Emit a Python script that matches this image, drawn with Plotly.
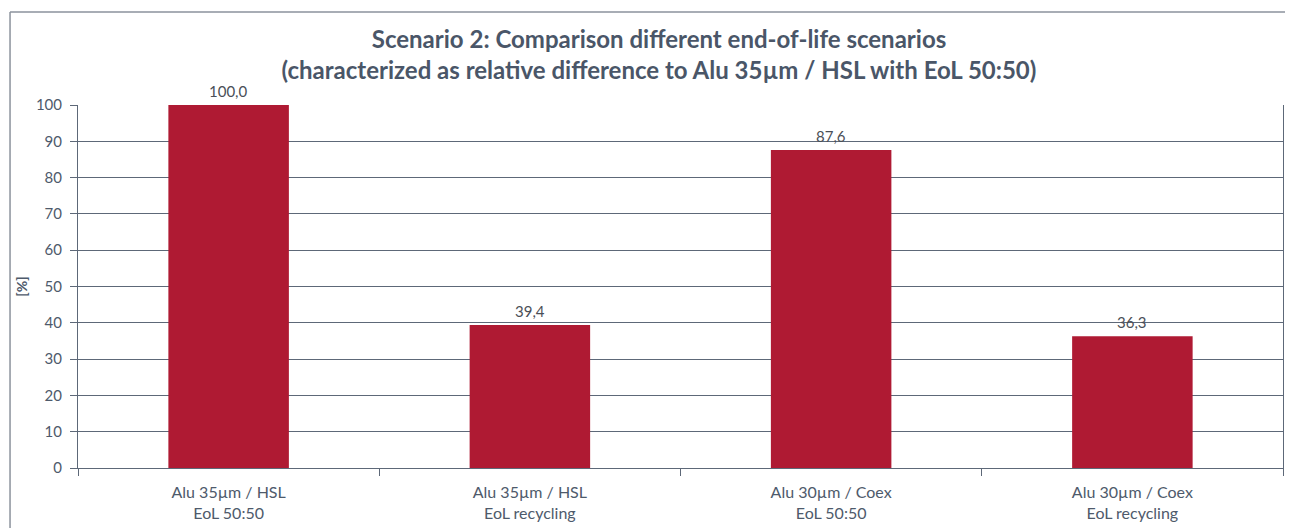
import plotly.graph_objects as go

categories = ["Alu 35µm / HSL<br>EoL 50:50", "Alu 35µm / HSL<br>EoL recycling",
              "Alu 30µm / Coex<br>EoL 50:50", "Alu 30µm / Coex<br>EoL recycling"]
values = [100.0, 39.4, 87.6, 36.3]
labels = ["100,0", "39,4", "87,6", "36,3"]
y_ticks = [0, 10, 20, 30, 40, 50, 60, 70, 80, 90, 100]

FONT = "Lato"
TXT = "#4e5a6b"
GRID = "#5d6878"
BAR = "#AF1A33"

W, H = 1285, 520

fig = go.Figure()
fig.add_trace(go.Bar(x=categories, y=values, marker=dict(color=BAR, line=dict(width=0)),
                     width=0.4, cliponaxis=False, hoverinfo="skip"))

for c, v, t in zip(categories, values, labels):
    fig.add_annotation(x=c, y=v, text=t, showarrow=False, yanchor="bottom", yshift=3,
                       font=dict(family=FONT, size=15, color="#4a4f57"))

fig.update_layout(
    width=W, height=H,
    margin=dict(l=70, r=10, t=97, b=60),
    paper_bgcolor="white", plot_bgcolor="white",
    showlegend=False,
    title=dict(text="Scenario 2: Comparison different end-of-life scenarios<br>(characterized as relative difference to Alu 35µm / HSL with EoL 50:50)",
               x=651 / W, xanchor="center", xref="container",
               y=1 - 40 / H, yanchor="middle", yref="container",
               font=dict(family=FONT, size=24, color="#4a5668", weight="bold"),
               automargin=False),
    font=dict(family=FONT, size=15, color=TXT),
)
fig.update_xaxes(tickson="boundaries", ticks="outside", ticklen=7, tickcolor=GRID,
                 showline=True, linecolor=GRID, linewidth=1, showgrid=False, automargin=False,
                 ticklabelstandoff=10,
                 tickfont=dict(family=FONT, size=16, color=TXT), mirror=False)
fig.update_yaxes(range=[0, 100], tickvals=y_ticks, ticks="outside", ticklen=7, tickcolor=GRID,
                 showline=True, linecolor=GRID, linewidth=1, showgrid=True, gridcolor=GRID,
                 gridwidth=1, zeroline=False, mirror=True, automargin=False,
                 ticklabelstandoff=5,
                 tickfont=dict(family=FONT, size=15, color=TXT),
                 title=dict(text="<b>[%]</b>", font=dict(family=FONT, size=14, color=TXT), standoff=4))

# outer frame (top and left edges of the chart container)
fig.add_shape(type="line", xref="paper", yref="paper", x0=-0.0564, x1=1.02, y0=1.256, y1=1.256,
              line=dict(color="#8b929c", width=1.5))
fig.add_shape(type="line", xref="paper", yref="paper", x0=-0.0564, x1=-0.0564, y0=-0.2, y1=1.256,
              line=dict(color="#8b929c", width=1.5))

fig.write_html("out.html")
